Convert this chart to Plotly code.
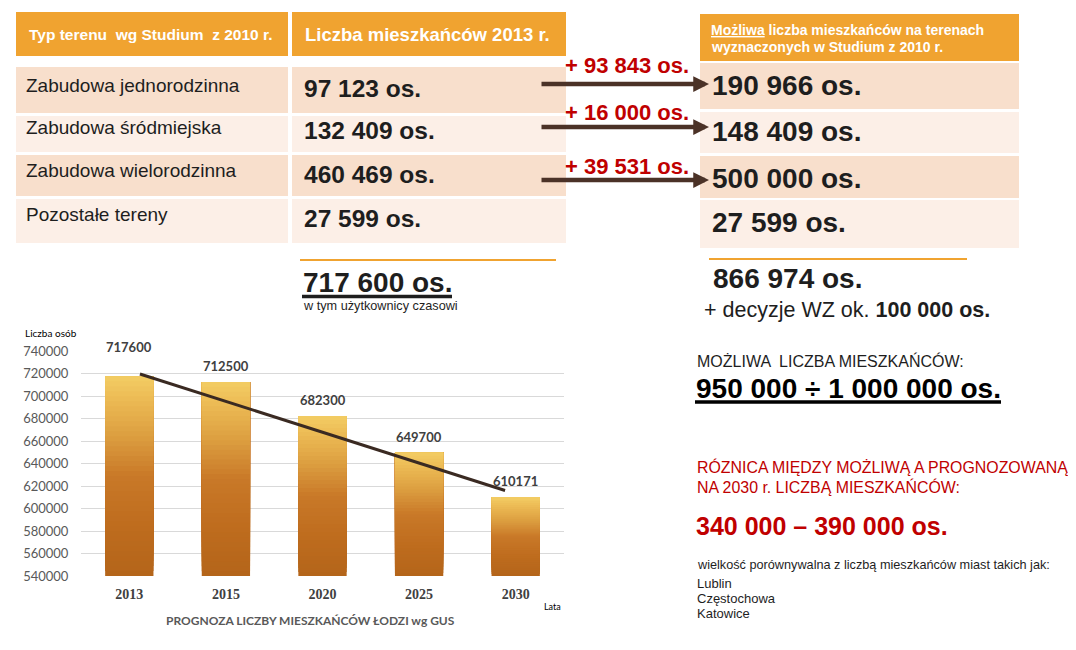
import plotly.graph_objects as go

# ---------------- data ----------------
years = ["2013", "2015", "2020", "2025", "2030"]
population = [717600, 712500, 682300, 649700, 610171]
y_ticks = [540000, 560000, 580000, 600000, 620000, 640000, 660000, 680000, 700000, 720000, 740000]
trend_values = [719600, 616000]          # (start, end)
trend_positions = [0.11, 3.89]           # category positions of the trend line ends

land_types = ["Zabudowa jednorodzinna", "Zabudowa śródmiejska", "Zabudowa wielorodzinna", "Pozostałe tereny"]
residents_2013 = ["97 123 os.", "132 409 os.", "460 469 os.", "27 599 os."]
possible_residents = ["190 966 os.", "148 409 os.", "500 000 os.", "27 599 os."]
increases = ["+ 93 843 os.", "+ 16 000 os.", "+ 39 531 os."]
total_2013 = "717 600 os."
total_possible = "866 974 os."
cities = ["Lublin", "Częstochowa", "Katowice"]

# ---------------- helpers ----------------
W, H = 1076, 650
OX, OY, PH = 8, 16, 634      # observed page offset / drawable paper height in the viewer
SANS = "Liberation Sans, Arial, sans-serif"
CAL = "Lato, Open Sans, sans-serif"
SERIF = "Liberation Serif, DejaVu Serif, serif"
ORANGE = "#F0A330"
ROW_DARK = "#F8DFCC"
ROW_LIGHT = "#FCEFE7"
RED = "#C00000"
DARK = "#1E1E1E"
ARROW = "#4B3227"

def px(x):
    return (x - OX) / W

def py(y):
    return 1 - (y - OY) / PH

fig = go.Figure()

def text(x, y, s, size, color=DARK, family=SANS, anchor="left"):
    fig.add_annotation(x=px(x), y=py(y), xref="paper", yref="paper", text=s, showarrow=False,
                       xanchor=anchor, yanchor="middle", font=dict(size=size, color=color, family=family))

def rect(x0, y0, x1, y1, color):
    fig.add_shape(type="rect", xref="paper", yref="paper", x0=px(x0), x1=px(x1), y0=py(y1), y1=py(y0),
                  fillcolor=color, line=dict(width=0), layer="below")

def hline(x0, x1, y, color, width):
    fig.add_shape(type="line", xref="paper", yref="paper", x0=px(x0), x1=px(x1), y0=py(y), y1=py(y),
                  line=dict(color=color, width=width))

# ---------------- bar chart (gradient bars via overlaid segments) ----------------
stops = [(0.0, (243, 205, 100)), (0.12, (236, 186, 84)), (0.3, (220, 158, 64)),
         (0.5, (201, 121, 40)), (0.75, (190, 108, 30)), (1.0, (180, 101, 26))]

def grad(t):
    for (t0, c0), (t1, c1) in zip(stops[:-1], stops[1:]):
        if t0 <= t <= t1:
            f = (t - t0) / (t1 - t0)
            c = [round(a + (b - a) * f) for a, b in zip(c0, c1)]
            return "rgb(%d,%d,%d)" % tuple(c)
    return "rgb(%d,%d,%d)" % stops[-1][1]

AX_MIN = y_ticks[0]
N = 40
xpos = list(range(len(years)))
for k in range(N):
    bases = [AX_MIN + (v - AX_MIN) * k / N for v in population]
    heights = [v - b for v, b in zip(population, bases)]
    col = grad(1 - (k + 0.5) / N)
    fig.add_trace(go.Bar(x=xpos, y=heights, base=bases, width=0.5, marker=dict(color=col, line=dict(width=0)),
                         showlegend=False, hoverinfo="skip"))

fig.add_trace(go.Scatter(x=trend_positions, y=trend_values, mode="lines",
                         line=dict(color="#3A2A22", width=3), showlegend=False, hoverinfo="skip"))

for i, v in enumerate(population):
    fig.add_annotation(x=i, y=v, xref="x", yref="y", text="<b>%d</b>" % v, showarrow=False,
                       yanchor="middle", yshift=29 if i == 0 else 16,
                       font=dict(size=13, color="#404040", family=CAL))

fig.update_layout(
    barmode="overlay",
    width=W, height=H, autosize=False,
    margin=dict(l=0, r=0, t=0, b=0),
    paper_bgcolor="white", plot_bgcolor="white",
    xaxis=dict(domain=[px(81), px(564)], range=[-0.5, 4.5], tickvals=xpos, ticktext=years,
               showgrid=False, zeroline=False, showline=False, ticks="outside", ticklen=5,
               tickcolor="rgba(0,0,0,0)",
               tickfont=dict(size=14, color="#404040", family=SERIF, weight="bold")),
    yaxis=dict(domain=[py(576), py(351)], range=[AX_MIN, y_ticks[-1]], tickvals=y_ticks, tickformat="d",
               showgrid=True, gridcolor="#D9D9D9", gridwidth=1, zeroline=False, showline=False,
               ticks="outside", ticklen=9, tickcolor="rgba(0,0,0,0)",
               tickfont=dict(size=13, color="#595959", family=CAL)),
)

text(23, 333, "Liczba osób", 10, "#000000", CAL)
text(552, 606, "Lata", 9, "#000000", CAL, anchor="center")
text(310, 620, "<b>PROGNOZA LICZBY MIESZKAŃCÓW ŁODZI wg GUS</b>", 12, "#595959", CAL, anchor="center")

# ---------------- left table ----------------
rect(16, 12, 288, 56, ORANGE)
rect(292, 12, 566, 56, ORANGE)
left_rows = [(67, 113, ROW_DARK), (116, 152, ROW_LIGHT), (155, 196, ROW_DARK), (199, 243, ROW_LIGHT)]
for (y0, y1, c) in left_rows:
    rect(16, y0, 288, y1, c)
    rect(292, y0, 566, y1, c)

text(27, 34, "<b>Typ terenu  wg Studium  z 2010 r.</b>", 15.5, "white")
text(303, 34, "<b>Liczba mieszkańców 2013 r.</b>", 18.5, "white")

label_y = [85, 127, 170, 214]
value_y = [89, 131, 174, 218]
for lab, val, ly, vy in zip(land_types, residents_2013, label_y, value_y):
    text(24, ly, lab, 19, DARK)
    text(302, vy, "<b>%s</b>" % val, 24.5, DARK)

hline(300, 556, 260, ORANGE, 2)
text(301, 282, "<b>%s</b>" % total_2013, 28, DARK)
hline(302, 452, 296.5, DARK, 3.5)
text(301, 306, "w tym użytkownicy czasowi", 12.7, DARK)

# ---------------- right table ----------------
rect(700, 14, 1019, 61, ORANGE)
right_rows = [(63, 109, ROW_DARK), (112, 153, ROW_LIGHT), (156, 198, ROW_DARK), (200, 248, ROW_LIGHT)]
for (y0, y1, c) in right_rows:
    rect(700, y0, 1019, y1, c)

text(709, 30, "<b><u>Możliwa</u> liczba mieszkańców na terenach</b>", 14, "white")
text(709, 47, "<b>wyznaczonych w Studium z 2010 r.</b>", 14, "white")

right_y = [85, 132, 179, 223]
for val, vy in zip(possible_residents, right_y):
    text(710, vy, "<b>%s</b>" % val, 28, DARK)

# arrows with increases
arrow_y = [84, 127, 180]
inc_y = [66, 113, 167]
for inc, ay, iy in zip(increases, arrow_y, inc_y):
    fig.add_annotation(x=px(709), y=py(ay), ax=-(709 - 540), ay=0, xref="paper", yref="paper",
                       axref="pixel", ayref="pixel", text="", showarrow=True,
                       arrowhead=2, arrowsize=0.7, arrowwidth=4.5, arrowcolor=ARROW)
    text(563, iy, "<b>%s</b>" % inc, 22, RED)

hline(709, 967, 259, ORANGE, 2)
text(711, 278, "<b>%s</b>" % total_possible, 28, DARK)
text(702, 310, "+ decyzje WZ ok. <b>100 000 os.</b>", 21.5, DARK)

text(695, 361, "MOŻLIWA  LICZBA MIESZKAŃCÓW:", 16, DARK)
text(694, 388, "<b>950 000 ÷ 1 000 000 os.</b>", 28, "#000000")
hline(695, 1001, 402, "#000000", 3.5)

text(695, 467, "RÓZNICA MIĘDZY MOŻLIWĄ A PROGNOZOWANĄ", 15.9, RED)
text(695, 487, "NA 2030 r. LICZBĄ MIESZKAŃCÓW:", 15.9, RED)
text(694, 526, "<b>340 000 – 390 000 os.</b>", 25, RED)
text(695, 565, "wielkość porównywalna z liczbą mieszkańców miast takich jak:", 12.7, DARK)
for i, c in enumerate(cities):
    text(695, 583 + 15 * i, c, 13, DARK)

fig.write_html("out.html")
